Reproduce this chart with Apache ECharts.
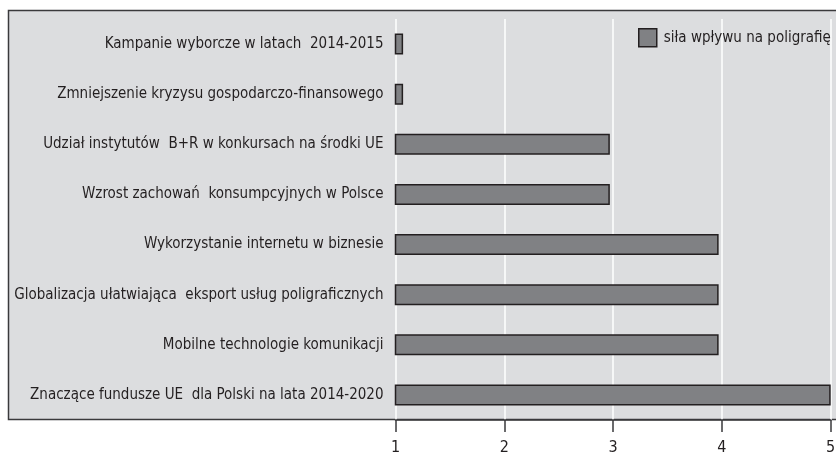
<!DOCTYPE html>
<html><head><meta charset="utf-8">
<script src="https://cdn.jsdelivr.net/npm/echarts@6/dist/echarts.min.js"></script>
<style>html,body{margin:0;padding:0;background:#fff}#c{width:836px;height:455px}</style>
</head><body><div id="c"></div>
<script>
var categories = [
  'Kampanie wyborcze w latach  2014-2015',
  'Zmniejszenie kryzysu gospodarczo-finansowego',
  'Udział instytutów  B+R w konkursach na środki UE',
  'Wzrost zachowań  konsumpcyjnych w Polsce',
  'Wykorzystanie internetu w biznesie',
  'Globalizacja ułatwiająca  eksport usług poligraficznych',
  'Mobilne technologie komunikacji',
  'Znaczące fundusze UE  dla Polski na lata 2014-2020'
];
var values = [1.07, 1.07, 2.97, 2.97, 3.97, 3.97, 3.97, 5.0];
var seriesName = 'siła wpływu na poligrafię';
var FONT = '"Liberation Sans Narrow", "DejaVu Sans Condensed", sans-serif';
var chart = echarts.init(document.getElementById('c'));
chart.setOption({
  animation: false,
  textStyle: {fontFamily: FONT},
  graphic: {elements: [{
    type: 'rect', z: -100, silent: true,
    shape: {x: 8.5, y: 10.5, width: 840, height: 409},
    style: {fill: '#dcdddf', stroke: '#3a3a3c', lineWidth: 1.5}
  }]},
  legend: {
    left: 633, top: 23, itemWidth: 18, itemHeight: 18, itemGap: 10, icon: 'rect',
    itemStyle: {borderColor: '#231f20', borderWidth: 1.5},
    textStyle: {fontFamily: FONT, fontSize: 15, color: '#231f20', padding: [0,0,0,2]},
    data: [seriesName]
  },
  grid: {left: 395.5, right: 5.3, top: 19, bottom: 35, containLabel: false, outerBoundsMode: 'none'},
  xAxis: {
    type: 'value', min: 1, max: 5, interval: 1,
    axisLine: {show: true, lineStyle: {color: '#3a3a3c', width: 1.5}},
    axisTick: {show: true, length: 12, lineStyle: {color: '#3a3a3c', width: 1.5}},
    axisLabel: {fontFamily: FONT, fontSize: 16, color: '#231f20', margin: 20},
    splitLine: {show: true, lineStyle: {color: '#ffffff', width: 1.5}}
  },
  yAxis: {
    type: 'category', inverse: true, data: categories,
    axisLine: {show: false}, axisTick: {show: false},
    axisLabel: {fontFamily: FONT, fontSize: 15, color: '#231f20', margin: 12}
  },
  series: [{
    name: seriesName, type: 'bar', data: values, barWidth: 21,
    itemStyle: {color: '#808184', borderColor: '#231f20', borderWidth: 1.5}
  }]
});
</script></body></html>
